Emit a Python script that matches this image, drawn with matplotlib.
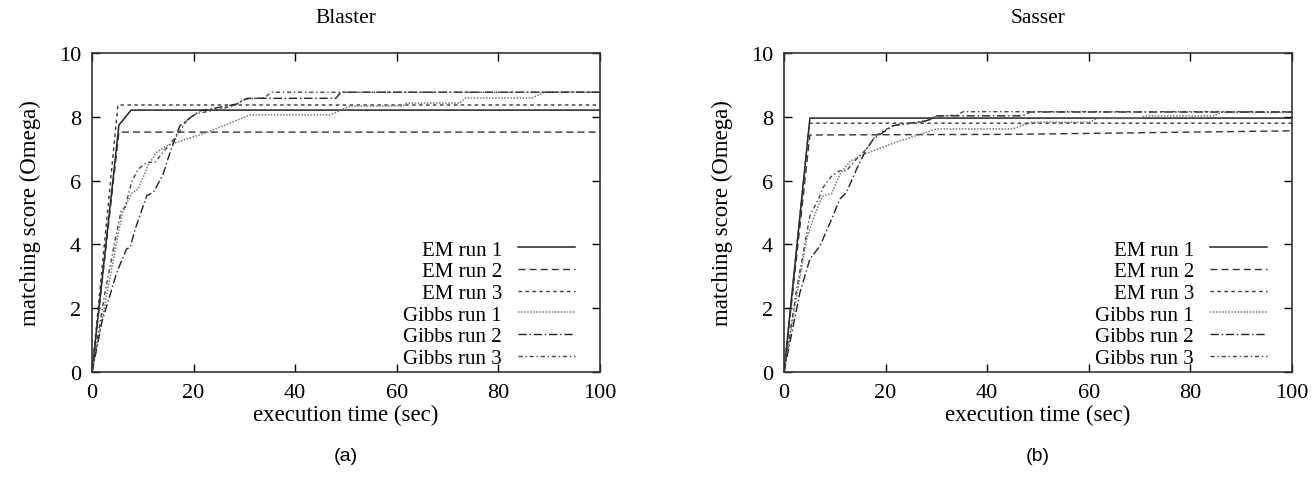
import matplotlib
matplotlib.use("Agg")
import matplotlib.pyplot as plt

plt.rcParams["font.family"] = ["Liberation Serif", "DejaVu Serif"]
plt.rcParams["font.size"] = 15

# ---- Blaster data (execution time sec, matching score) ----
blaster_em1_x = [0, 5.3, 7.7, 100]
blaster_em1_y = [0, 7.74, 8.21, 8.21]
blaster_em2_x = [0, 5.3, 100]
blaster_em2_y = [0, 7.52, 7.52]
blaster_em3_x = [0, 5.1, 100]
blaster_em3_y = [0, 8.37, 8.37]
blaster_gibbs1_x = [0, 3, 5, 6, 7.8, 9.1, 11.1, 12.7, 14.7, 16.7, 22.6, 31.1,
                    46.9, 50.8, 61.2, 62, 72.4, 73.5, 86.6, 89.2, 100]
blaster_gibbs1_y = [0, 2.5, 4.2, 5.0, 5.6, 5.74, 6.5, 6.89, 7.09, 7.2, 7.51, 8.06,
                    8.06, 8.34, 8.34, 8.43, 8.43, 8.59, 8.59, 8.78, 8.78]
blaster_gibbs2_x = [0, 2, 4.9, 6.8, 7.5, 8.5, 10.8, 12.1, 14, 15.4, 17.3, 20.3,
                    21.3, 25.2, 28.5, 30.5, 48, 49, 100]
blaster_gibbs2_y = [0, 1.6, 3.13, 3.86, 3.9, 4.48, 5.53, 5.63, 6.2, 6.9, 7.72, 8.09,
                    8.19, 8.3, 8.4, 8.58, 8.58, 8.77, 8.77]
blaster_gibbs3_x = [0, 2.56, 4.86, 5.8, 6.5, 7.8, 9.1, 10.8, 12.4, 14, 16.7, 18.5,
                    20.5, 24, 28, 30, 34, 35.3, 100]
blaster_gibbs3_y = [0, 2.5, 4.38, 5.1, 5.16, 5.95, 6.36, 6.57, 6.57, 6.89, 7.41, 7.85,
                    8.1, 8.2, 8.35, 8.55, 8.6, 8.77, 8.77]

# ---- Sasser data ----
sasser_em1_x = [0, 5.1, 100]
sasser_em1_y = [0, 7.96, 7.96]
sasser_em2_x = [0, 5.1, 45, 100]
sasser_em2_y = [0, 7.43, 7.45, 7.56]
sasser_em3_x = [0, 5.0, 100]
sasser_em3_y = [0, 7.8, 7.8]
sasser_gibbs1_x = [0, 2.5, 4.5, 6, 7.5, 9.4, 11, 13, 15, 22, 30, 45, 48.8,
                   60.2, 61.6, 70, 71, 84.5, 86.2, 100]
sasser_gibbs1_y = [0, 2.4, 4.2, 4.9, 5.5, 5.6, 6.2, 6.6, 6.78, 7.2, 7.62, 7.62, 7.83,
                   7.83, 7.95, 7.95, 8.03, 8.03, 8.14, 8.14]
sasser_gibbs2_x = [0, 3.15, 5.1, 7.1, 9.1, 11, 12.3, 13.3, 14.6, 16.3, 17.6, 19.5,
                   21.5, 25, 28.1, 30, 47, 48.4, 100]
sasser_gibbs2_y = [0, 2.5, 3.54, 3.96, 4.69, 5.42, 5.63, 6.0, 6.47, 7.0, 7.3, 7.51,
                   7.72, 7.8, 7.88, 8.03, 8.03, 8.15, 8.15]
sasser_gibbs3_x = [0, 2.5, 5.1, 6.8, 7.7, 9.4, 11, 12.3, 14.3, 16.3, 18, 20,
                   22, 28, 30, 34, 35.3, 100]
sasser_gibbs3_y = [0, 2.6, 4.9, 5.42, 5.79, 6.15, 6.31, 6.31, 6.68, 7.0, 7.4, 7.6,
                   7.75, 7.85, 8.02, 8.05, 8.16, 8.16]

series_labels = ["EM run 1", "EM run 2", "EM run 3",
                 "Gibbs run 1", "Gibbs run 2", "Gibbs run 3"]
panel_titles = ["Blaster", "Sasser"]
panel_tags = ["(a)", "(b)"]

line_styles = [
    dict(color="#222222", linestyle="-", linewidth=1.1),
    dict(color="#333333", linestyle=(0, (5, 3)), linewidth=1.0),
    dict(color="#333333", linestyle=(0, (2.5, 2.5)), linewidth=1.0),
    dict(color="#777777", linestyle=(0, (1, 1)), linewidth=1.1),
    dict(color="#222222", linestyle=(0, (6, 2, 1, 2)), linewidth=1.0),
    dict(color="#444444", linestyle=(0, (3, 2, 1, 2)), linewidth=1.0),
]

panels = [
    [(blaster_em1_x, blaster_em1_y), (blaster_em2_x, blaster_em2_y),
     (blaster_em3_x, blaster_em3_y), (blaster_gibbs1_x, blaster_gibbs1_y),
     (blaster_gibbs2_x, blaster_gibbs2_y), (blaster_gibbs3_x, blaster_gibbs3_y)],
    [(sasser_em1_x, sasser_em1_y), (sasser_em2_x, sasser_em2_y),
     (sasser_em3_x, sasser_em3_y), (sasser_gibbs1_x, sasser_gibbs1_y),
     (sasser_gibbs2_x, sasser_gibbs2_y), (sasser_gibbs3_x, sasser_gibbs3_y)],
]

fig = plt.figure(figsize=(13.14, 4.89), dpi=100)
axes_rects = [
    [92 / 1314, 1 - 373 / 489, 508 / 1314, 319 / 489],
    [784 / 1314, 1 - 373 / 489, 508 / 1314, 319 / 489],
]

for rect, series, title, tag in zip(axes_rects, panels, panel_titles, panel_tags):
    ax = fig.add_axes(rect)
    for (xs, ys), label, style in zip(series, series_labels, line_styles):
        ax.plot(xs, ys, label=label, **style)
    ax.set_xlim(0, 100)
    ax.set_ylim(0, 10)
    ax.set_xticks([0, 20, 40, 60, 80, 100])
    ax.set_yticks([0, 2, 4, 6, 8, 10])
    ax.tick_params(direction="in", top=True, right=True, length=6, width=1,
                   labelsize=16, pad=8)
    for spine in ax.spines.values():
        spine.set_linewidth(1.2)
        spine.set_color("#333333")
    ax.set_title(title, fontsize=15.5, pad=22)
    ax.set_xlabel("execution time (sec)", fontsize=16.5, labelpad=1)
    ax.set_ylabel("matching score (Omega)", fontsize=16.5, labelpad=13)
    ax.legend(loc="lower right", bbox_to_anchor=(1 - 25 / 508, 4 / 319),
              frameon=False, markerfirst=False, handlelength=2.75,
              labelspacing=0.1, borderaxespad=0, borderpad=0,
              fontsize=15, handletextpad=0.75)
    cx = rect[0] + rect[2] / 2
    fig.text(cx, 1 - 457 / 489, tag, ha="center", va="center",
             fontsize=14, family=["Liberation Sans", "DejaVu Sans"])

fig.savefig("out.png", dpi=100)
